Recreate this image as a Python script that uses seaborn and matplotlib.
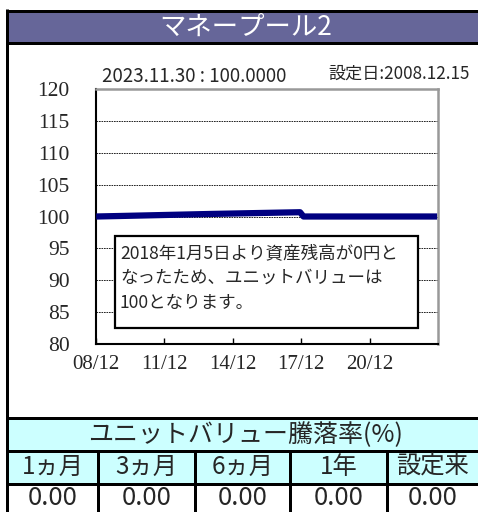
import matplotlib
matplotlib.use("Agg")
import matplotlib.pyplot as plt
from matplotlib.patches import Rectangle
import seaborn as sns
import pandas as pd

# data
years = [2008.96, 2010.0, 2011.0, 2012.0, 2013.0, 2014.0, 2015.0, 2016.0, 2017.0, 2017.9, 2018.05, 2020.0, 2023.91]
values = [100.0, 100.08, 100.16, 100.24, 100.32, 100.4, 100.47, 100.54, 100.61, 100.67, 100.0, 100.0, 100.0]
tick_pos = [2008.95, 2011.95, 2014.95, 2017.95, 2020.95]
tick_labels = ['08/12', '11/12', '14/12', '17/12', '20/12']
y_ticks = [80, 85, 90, 95, 100, 105, 110, 115, 120]

title = 'マネープール2'
latest = '2023.11.30 : 100.0000'
start_date = '設定日:2008.12.15'
note_lines = ['2018年1月5日より資産残高が0円と', 'なったため、ユニットバリューは', '100となります。']
table_title = 'ユニットバリュー騰落率(%)'
periods = ['1ヵ月', '3ヵ月', '6ヵ月', '1年', '設定来']
returns = ['0.00', '0.00', '0.00', '0.00', '0.00']

sns.set_theme(style="white")
plt.rcParams['font.family'] = ['Noto Sans CJK JP', 'DejaVu Sans']
jp = ['Noto Sans CJK JP', 'DejaVu Sans']
serif = 'Liberation Serif'

fig = plt.figure(figsize=(4.78, 5.12), dpi=100)
fig.patch.set_facecolor('white')

# background layer in pixel coords
bg = fig.add_axes([0, 0, 1, 1])
bg.set_xlim(0, 478)
bg.set_ylim(512, 0)
bg.axis('off')
px = 0.72  # points per pixel

bg.add_patch(Rectangle((8, 12), 470, 30, facecolor='#666699', edgecolor='none'))
bg.plot([6, 478], [10.5, 10.5], color='black', lw=3 * px, solid_capstyle='butt')
bg.plot([6, 478], [42.5, 42.5], color='black', lw=3 * px, solid_capstyle='butt')
bg.plot([7.5, 7.5], [9, 512], color='black', lw=3 * px, solid_capstyle='butt')
bg.text(246, 27, title, color='white', fontsize=19, ha='center', va='center', family=jp)

bg.text(102, 76, latest, fontsize=13.5, ha='left', va='center', family=jp)
bg.text(470, 74, start_date, fontsize=12.3, ha='right', va='center', family=jp)

# table
bg.add_patch(Rectangle((8, 419), 470, 32, facecolor='#CCFFFF', edgecolor='none'))
bg.add_patch(Rectangle((8, 452), 470, 32, facecolor='#CCFFFF', edgecolor='none'))
for yy in [418, 451, 484]:
    bg.plot([6, 478], [yy, yy], color='black', lw=3 * px, solid_capstyle='butt')
col_edges = [8, 98, 195, 290, 387, 478]
for xx in col_edges[1:-1]:
    bg.plot([xx, xx], [451, 512], color='black', lw=3 * px, solid_capstyle='butt')
bg.text(245, 435, table_title, fontsize=18, ha='center', va='center', family=jp)
for i, (p, r) in enumerate(zip(periods, returns)):
    cx = (col_edges[i] + col_edges[i + 1]) / 2
    bg.text(cx, 467, p, fontsize=17.5, ha='center', va='center', family=jp)
    bg.text(cx, 498, r, fontsize=18.5, ha='center', va='center', family=jp)

# chart
ax = fig.add_axes([96 / 478, 1 - 344 / 512, 342 / 478, 255 / 512])
df = pd.DataFrame({'year': years, 'value': values})
sns.lineplot(data=df, x='year', y='value', ax=ax, color='#000080', lw=4.5,
             solid_capstyle='butt', zorder=3)
ax.set_xlim(2008.95, 2023.95)
ax.set_ylim(80, 120)
ax.set_xticks(tick_pos)
ax.set_xticklabels(tick_labels, family=serif, fontsize=15)
ax.set_yticks(y_ticks)
ax.set_yticklabels([str(v) for v in y_ticks], family=serif, fontsize=15.5)
ax.set_xlabel(None)
ax.set_ylabel(None)
ax.tick_params(axis='x', direction='in', length=4, width=1, color='black', pad=8, bottom=True)
ax.tick_params(axis='y', length=0, pad=19)
for v in y_ticks[1:-1]:
    ax.axhline(v, color='black', lw=0.6, ls=(0, (2, 1)), zorder=1)
ax.spines['left'].set_color('black')
ax.spines['bottom'].set_color('black')
ax.spines['left'].set_linewidth(1.5)
ax.spines['bottom'].set_linewidth(1.5)
ax.spines['top'].set_color('#999999')
ax.spines['right'].set_color('#999999')
ax.spines['top'].set_linewidth(1.8)
ax.spines['right'].set_linewidth(1.8)

# note box
ax.add_patch(Rectangle((0.0556, 0.0627), 0.886, 0.361, transform=ax.transAxes,
                       facecolor='white', edgecolor='black', lw=1.6, zorder=5))
for i, line in enumerate(note_lines):
    ax.text(0.07, (344 - 253 - i * 25) / 255, line, transform=ax.transAxes,
            fontsize=12.6, ha='left', va='center', family=jp, zorder=6)

fig.savefig('out.png', dpi=100)
